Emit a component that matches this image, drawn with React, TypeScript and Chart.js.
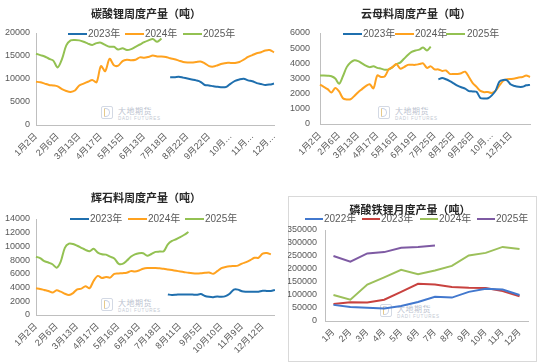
import React, { useEffect, useRef } from "react";
import { Chart, registerables } from "chart.js";

Chart.register(...registerables);
Chart.defaults.font.family = '"Liberation Sans", "Noto Sans CJK SC", sans-serif';

// ---------- shared labels ----------
const YEAR_LABELS_WEEKLY = ["2023年", "2024年", "2025年"];
const YEAR_LABELS_MONTHLY = ["2022年", "2023年", "2024年", "2025年"];

// ---------- 碳酸锂周度产量 ----------
const LC_TICKS = ["1月2日", "2月6日", "3月13日", "4月17日", "5月15日", "6月13日", "7月18日", "8月22日", "9月22日", "10月…", "11月…", "12月…"];
const LC_COUNT = 56;
const LC_2023 = [10400, 10400, 10500, 10300, 10100, 9900, 9700, 9400, 8700, 8600, 8400, 8300, 8200, 8300, 9000, 9600, 9900, 10050, 9700, 9500, 9100, 8900, 8700, 8800, 9000];
const LC_2023_START = 31;
const LC_2024 = [9400, 9300, 9000, 8700, 8600, 8400, 7800, 7400, 7200, 7500, 8600, 9000, 9400, 9800, 9300, 12800, 11700, 14400, 13000, 12900, 13900, 14200, 14100, 14200, 14700, 14600, 14800, 15100, 14900, 14900, 14800, 14500, 14300, 14000, 13700, 13600, 13600, 13700, 13800, 13400, 12800, 12700, 13000, 13300, 13500, 13500, 13500, 13700, 14200, 14800, 15200, 15600, 15800, 16200, 16300, 15800];
const LC_2025 = [15500, 15200, 14900, 14400, 14000, 12500, 14300, 17300, 18400, 18500, 18400, 18100, 17700, 17400, 17800, 17900, 17400, 17000, 17000, 16400, 16700, 16300, 16500, 17000, 17500, 18000, 18400, 18700, 18100, 18800];

// ---------- 云母料周度产量 ----------
const LP_TICKS = ["1月2日", "2月6日", "3月13日", "4月17日", "5月16日", "6月19日", "7月25日", "8月25日", "9月26日", "10月…", "12月1日"];
const LP_COUNT = 56;
const LP_2023 = [2950, 3030, 2950, 2830, 2680, 2530, 2420, 2330, 2170, 2150, 2120, 1720, 1680, 1700, 1890, 2200, 2800, 2900, 2880, 2600, 2500, 2450, 2450, 2550, 2580];
const LP_2023_START = 31;
const LP_2024 = [2600, 2450, 2300, 2080, 2380, 2150, 1700, 1620, 1630, 1850, 2100, 2300, 2500, 2620, 2350, 3200, 3100, 3150, 3600, 3750, 3950, 3650, 3750, 3900, 3900, 3900, 3950, 4000, 3700, 3800, 3600, 3600, 3500, 3530, 3300, 3300, 3300, 3350, 3450, 3100, 2700, 2450, 2180, 2100, 2110, 2050, 2200, 2550, 2850, 2950, 2970, 3000, 3060, 3100, 3200, 3100];
const LP_2025 = [3200, 3200, 3180, 3150, 3000, 2650, 3150, 3750, 4050, 4200, 4150, 4000, 3850, 3750, 3800, 3700, 3650, 3580, 3600, 3750, 3950, 4050, 4300, 4550, 4750, 4850, 4900, 5050, 4850, 5100];

// ---------- 辉石料周度产量 ----------
const PX_TICKS = ["1月2日", "2月6日", "3月13日", "4月17日", "5月16日", "6月19日", "7月18日", "8月11日", "9月5日", "10月10日", "11月9日", "12月12日"];
const PX_COUNT = 59;
const PX_2023 = [3000, 2920, 2950, 3000, 3000, 3000, 2980, 2950, 3050, 2780, 2650, 2600, 2700, 2650, 2750, 3100, 3700, 3700, 3450, 3400, 3400, 3400, 3400, 3550, 3500, 3500, 3650];
const PX_2023_START = 32;
const PX_2024 = [3900, 3800, 3650, 3500, 3270, 3600, 3400, 3100, 2920, 3200, 3750, 3850, 4200, 3900, 5000, 5700, 5400, 5550, 5450, 6000, 6050, 6100, 6150, 6400, 6350, 6500, 6750, 6850, 6850, 6850, 6800, 6750, 6650, 6550, 6450, 6350, 6250, 6150, 6080, 6050, 6080, 6150, 6200, 6000, 6400, 6850, 7000, 7100, 7150, 7200, 7500, 7700, 8000, 8350, 8350, 8950, 9050, 8850];
const PX_2025 = [8500, 8300, 7850, 7650, 7400, 6900, 7800, 9800, 10400, 10350, 10100, 9800, 9500, 9300, 9650, 9100, 8850, 8800, 8500, 8250, 7500, 7450, 7900, 8500, 8850, 9000, 9000, 8650, 8900, 9200, 9250, 9300, 10300, 10800, 11050, 11350, 11700, 12100];

// ---------- 磷酸铁锂月度产量 ----------
const MONTHS = ["1月", "2月", "3月", "4月", "5月", "6月", "7月", "8月", "9月", "10月", "11月", "12月"];
const LFP_2022 = [62000, 54000, 51000, 48000, 58000, 73000, 93000, 90000, 112000, 124000, 121000, 100000];
const LFP_2023 = [65000, 72000, 71000, 82000, 112000, 143000, 140000, 131000, 128000, 127000, 115000, 95000];
const LFP_2024 = [100000, 82000, 140000, 168000, 197000, 180000, 194000, 212000, 252000, 262000, 285000, 277000];
const LFP_2025 = [250000, 228000, 260000, 265000, 282000, 285000, 290000];

// ---------- styles ----------
const W23 = "#1F6FAE";
const W24 = "#FFA21F";
const W25 = "#93C152";
const M22 = "#4278CE";
const M23 = "#C8423F";
const M24 = "#9CC05A";
const M25 = "#7E5AA3";
const AXIS = "#BFBFBF";
const TICK = "#595959";
const FONT = '"Liberation Sans", "Noto Sans CJK SC", sans-serif';

function weeklyLabels(ticks: string[], count: number): string[] {
  const out: string[] = [];
  for (let i = 0; i < count; i++) out.push(i % 5 === 0 && ticks[i / 5] ? ticks[i / 5] : "");
  return out;
}
function pad(start: number, vals: number[]): (number | null)[] {
  const out: (number | null)[] = [];
  for (let i = 0; i < start; i++) out.push(null);
  return out.concat(vals);
}

type Series = { label: string; data: (number | null)[]; color: string };
type Props = {
  x: number; y: number; w: number; h: number;
  area: { left: number; top: number; right: number; bottom: number };
  labels: string[]; series: Series[];
  yMax: number; yStep: number; yPad: number; xPad: number;
  offset: boolean; tension: number; lineWidth: number;
};

function LineChart(p: Props) {
  const ref = useRef<HTMLCanvasElement>(null);
  useEffect(() => {
    const chart = new Chart(ref.current as HTMLCanvasElement, {
      type: "line",
      data: {
        labels: p.labels,
        datasets: p.series.map((s) => ({
          label: s.label, data: s.data, borderColor: s.color, backgroundColor: s.color,
          borderWidth: p.lineWidth, pointRadius: 0, tension: p.tension, fill: false, spanGaps: false,
        })),
      },
      options: {
        responsive: false,
        animation: false,
        layout: { padding: { top: p.area.top, right: p.w - p.area.right, left: 0, bottom: 0 } },
        plugins: { legend: { display: false }, title: { display: false }, tooltip: { enabled: false } },
        scales: {
          x: {
            type: "category",
            offset: p.offset,
            grid: { display: false, drawTicks: false },
            border: { display: true, color: AXIS, width: 1 },
            ticks: { autoSkip: false, maxRotation: 45, minRotation: 45, padding: p.xPad, color: TICK, font: { size: 9 } },
            afterFit: (s: any) => { s.height = p.h - p.area.bottom; s.paddingLeft = 0; s.paddingRight = 0; },
          },
          y: {
            min: 0, max: p.yMax,
            grid: { display: false, drawTicks: false },
            border: { display: true, color: AXIS, width: 1 },
            ticks: { autoSkip: false, stepSize: p.yStep, padding: p.yPad, color: TICK, font: { size: 9 }, callback: (v: any) => String(v) },
            afterFit: (s: any) => { s.width = p.area.left; },
          },
        },
      } as any,
    });
    return () => chart.destroy();
  }, []);
  return (
    <canvas ref={ref} width={p.w} height={p.h}
      style={{ position: "absolute", left: p.x, top: p.y, width: p.w, height: p.h }} />
  );
}

function Title({ cx, cy, text }: { cx: number; cy: number; text: string }) {
  return (
    <div style={{ position: "absolute", left: cx - 110, top: cy - 8, width: 220, height: 16, lineHeight: "16px",
      textAlign: "center", fontSize: 11, fontWeight: 700, color: "#262626", fontFamily: '"Noto Sans CJK SC", sans-serif', whiteSpace: "nowrap" }}>
      {text}
    </div>
  );
}

type LegendItem = { x1: number; x2: number; tx: number; color: string; text: string };
function Legend({ cy, items }: { cy: number; items: LegendItem[] }) {
  return (
    <>
      {items.map((it, i) => (
        <React.Fragment key={i}>
          <div style={{ position: "absolute", left: it.x1, top: cy - 1, width: it.x2 - it.x1, height: 2, background: it.color }} />
          <div style={{ position: "absolute", left: it.tx, top: cy - 7, height: 14, lineHeight: "14px", fontSize: 10, color: TICK, fontFamily: FONT, whiteSpace: "nowrap" }}>
            {it.text}
          </div>
        </React.Fragment>
      ))}
    </>
  );
}

function Watermark({ x, y }: { x: number; y: number }) {
  return (
    <>
      <div style={{ position: "absolute", left: x, top: y, width: 12, height: 13, border: "1px solid #d3d9e4", borderRadius: 2, boxSizing: "border-box" }} />
      <div style={{ position: "absolute", left: x + 3, top: y + 2, width: 6, height: 9, border: "1.5px solid #c9d2e6", borderRadius: "0 5px 5px 0", borderLeftColor: "#e6c98a", boxSizing: "border-box" }} />
      <div style={{ position: "absolute", left: x + 17, top: y, fontSize: 8, lineHeight: "9px", color: "#bcc3cf", fontFamily: '"Noto Sans CJK SC", sans-serif', letterSpacing: 0.5, whiteSpace: "nowrap" }}>大地期货</div>
      <div style={{ position: "absolute", left: x + 17, top: y + 10, fontSize: 4.5, lineHeight: "5px", color: "#c3c9d3", fontFamily: FONT, letterSpacing: 0.8, whiteSpace: "nowrap" }}>DADI FUTURES</div>
    </>
  );
}

export default function App() {
  const lcLabels = weeklyLabels(LC_TICKS, LC_COUNT);
  const lpLabels = weeklyLabels(LP_TICKS, LP_COUNT);
  const pxLabels = weeklyLabels(PX_TICKS, PX_COUNT);
  const wk = (a: (number | null)[], b: (number | null)[], c: (number | null)[]): Series[] => [
    { label: YEAR_LABELS_WEEKLY[0], data: a, color: W23 },
    { label: YEAR_LABELS_WEEKLY[1], data: b, color: W24 },
    { label: YEAR_LABELS_WEEKLY[2], data: c, color: W25 },
  ];
  return (
    <div style={{ position: "absolute", left: 0, top: 0, width: 550, height: 362, background: "#fff", overflow: "hidden" }}>
      {/* Panel 1 */}
      <Watermark x={101} y={106} />
      <LineChart x={0} y={0} w={275} h={180} area={{ left: 36, top: 33, right: 274, bottom: 125 }}
        labels={lcLabels} series={wk(pad(LC_2023_START, LC_2023), LC_2024, LC_2025)}
        yMax={20000} yStep={5000} yPad={6} xPad={6} offset={false} tension={0.3} lineWidth={2} />
      <Title cx={146} cy={13} text="碳酸锂周度产量（吨）" />
      <Legend cy={34} items={[
        { x1: 68, x2: 87, tx: 88, color: W23, text: YEAR_LABELS_WEEKLY[0] },
        { x1: 125, x2: 144, tx: 145, color: W24, text: YEAR_LABELS_WEEKLY[1] },
        { x1: 183, x2: 202, tx: 203, color: W25, text: YEAR_LABELS_WEEKLY[2] },
      ]} />

      {/* Panel 2 */}
      <Watermark x={378} y={106} />
      <LineChart x={275} y={0} w={275} h={180} area={{ left: 45, top: 33, right: 255, bottom: 124 }}
        labels={lpLabels} series={wk(pad(LP_2023_START, LP_2023), LP_2024, LP_2025)}
        yMax={6000} yStep={1000} yPad={10} xPad={6} offset={false} tension={0.3} lineWidth={2} />
      <Title cx={416} cy={13} text="云母料周度产量（吨）" />
      <Legend cy={34} items={[
        { x1: 343, x2: 362, tx: 363, color: W23, text: YEAR_LABELS_WEEKLY[0] },
        { x1: 395, x2: 414, tx: 415, color: W24, text: YEAR_LABELS_WEEKLY[1] },
        { x1: 446, x2: 465, tx: 467, color: W25, text: YEAR_LABELS_WEEKLY[2] },
      ]} />

      {/* Panel 3 */}
      <Watermark x={101} y={298} />
      <LineChart x={0} y={180} w={275} h={182} area={{ left: 36, top: 39, right: 275, bottom: 135 }}
        labels={pxLabels} series={wk(pad(PX_2023_START, PX_2023), PX_2024, PX_2025)}
        yMax={14000} yStep={2000} yPad={6} xPad={6} offset={false} tension={0.3} lineWidth={2} />
      <Title cx={146} cy={197} text="辉石料周度产量（吨）" />
      <Legend cy={219} items={[
        { x1: 70, x2: 89, tx: 90, color: W23, text: YEAR_LABELS_WEEKLY[0] },
        { x1: 128, x2: 147, tx: 148, color: W24, text: YEAR_LABELS_WEEKLY[1] },
        { x1: 185, x2: 204, tx: 205, color: W25, text: YEAR_LABELS_WEEKLY[2] },
      ]} />

      {/* Panel 4 */}
      <div style={{ position: "absolute", left: 288, top: 196, width: 249, height: 166, border: "1px solid #d9d9d9", boxSizing: "border-box" }} />
      <Watermark x={380} y={304} />
      <LineChart x={288} y={196} w={249} h={166} area={{ left: 37, top: 34, right: 240, bottom: 125 }}
        labels={MONTHS} series={[
          { label: YEAR_LABELS_MONTHLY[0], data: LFP_2022, color: M22 },
          { label: YEAR_LABELS_MONTHLY[1], data: LFP_2023, color: M23 },
          { label: YEAR_LABELS_MONTHLY[2], data: LFP_2024, color: M24 },
          { label: YEAR_LABELS_MONTHLY[3], data: LFP_2025, color: M25 },
        ]}
        yMax={350000} yStep={50000} yPad={8} xPad={6} offset={true} tension={0} lineWidth={2} />
      <Title cx={410} cy={209} text="磷酸铁锂月度产量（吨）" />
      <Legend cy={219} items={[
        { x1: 305, x2: 323, tx: 324, color: M22, text: YEAR_LABELS_MONTHLY[0] },
        { x1: 362, x2: 380, tx: 381, color: M23, text: YEAR_LABELS_MONTHLY[1] },
        { x1: 420, x2: 438, tx: 439, color: M24, text: YEAR_LABELS_MONTHLY[2] },
        { x1: 477, x2: 495, tx: 496, color: M25, text: YEAR_LABELS_MONTHLY[3] },
      ]} />
    </div>
  );
}
